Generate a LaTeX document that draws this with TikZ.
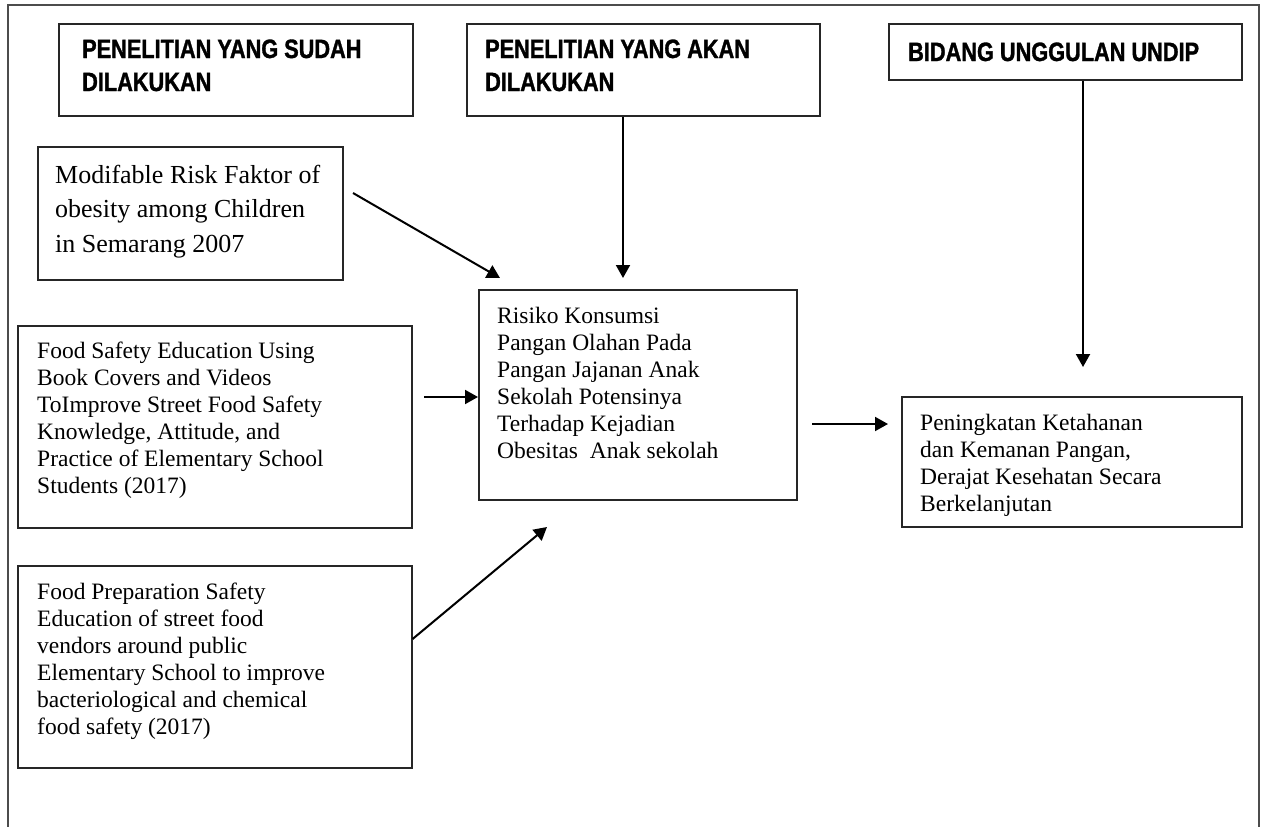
\documentclass[tikz,border=0pt]{standalone}
\usepackage{fontspec}
\setmainfont{Liberation Serif}
\newfontfamily\hdrfont[FakeStretch=0.82,FakeBold=1.2]{Liberation Sans}
\usetikzlibrary{arrows.meta}
\begin{document}
\begin{tikzpicture}[x=1pt,y=-1pt,
  framebox/.style={draw=black!85,line width=1.6pt,inner sep=0pt,anchor=north west},
  hdrtext/.style={anchor=base west,inner sep=0pt,font=\hdrfont\bfseries\fontsize{26.5}{33}\selectfont},
  bodytext/.style={anchor=base west,inner sep=0pt,font=\fontsize{23.5}{27}\selectfont},
  bigtext/.style={anchor=base west,inner sep=0pt,font=\fontsize{26}{34.5}\selectfont},
  arr/.style={line width=2pt,-{Triangle[length=13pt,width=14pt]}}]
\useasboundingbox (0,0) rectangle (1262,827);
\fill[white] (0,0) rectangle (1262,827);
% outer frame, open at the bottom
\draw[draw=black!70,line width=2pt] (8,827) -- (8,5) -- (1259,5) -- (1259,827);

% header boxes
\node[framebox,minimum width=354pt,minimum height=92pt] (hA) at (58,23) {};
\node[hdrtext] (hAt) at (82,58) {\begin{tabular}[t]{@{}l@{}}PENELITIAN YANG SUDAH\\DILAKUKAN\end{tabular}};
\node[framebox,minimum width=353pt,minimum height=92pt] (hB) at (466,23) {};
\node[hdrtext] (hBt) at (485,58) {\begin{tabular}[t]{@{}l@{}}PENELITIAN YANG AKAN\\DILAKUKAN\end{tabular}};
\node[framebox,minimum width=353pt,minimum height=56pt] (hC) at (888,23) {};
\node[hdrtext] (hCt) at (908,61) {BIDANG UNGGULAN UNDIP};

% left column boxes
\node[framebox,minimum width=305pt,minimum height=133pt] (mod) at (37,146) {};
\node[bigtext] (modt) at (55,183) {\begin{tabular}[t]{@{}l@{}}Modifable Risk Faktor of\\obesity among Children\\in Semarang 2007\end{tabular}};
\node[framebox,minimum width=394pt,minimum height=202pt] (fse) at (17,325) {};
\node[bodytext] (fset) at (37,358) {\begin{tabular}[t]{@{}l@{}}Food Safety Education Using\\Book Covers and Videos\\ToImprove Street Food Safety\\Knowledge, Attitude, and\\Practice of Elementary School\\Students (2017)\end{tabular}};
\node[framebox,minimum width=394pt,minimum height=202pt] (fps) at (17,565) {};
\node[bodytext] (fpst) at (37,599) {\begin{tabular}[t]{@{}l@{}}Food Preparation Safety\\Education of street food\\vendors around public\\Elementary School to improve\\bacteriological and chemical\\food safety (2017)\end{tabular}};

% centre box
\node[framebox,minimum width=318pt,minimum height=210pt] (ctr) at (478,289) {};
\node[bodytext] (ctrt) at (497,323) {\begin{tabular}[t]{@{}l@{}}Risiko Konsumsi\\Pangan Olahan Pada\\Pangan Jajanan Anak\\Sekolah Potensinya\\Terhadap Kejadian\\Obesitas~~Anak sekolah\end{tabular}};

% outcome box
\node[framebox,minimum width=340pt,minimum height=130pt] (res) at (901,396) {};
\node[bodytext] (rest) at (920,430) {\begin{tabular}[t]{@{}l@{}}Peningkatan Ketahanan\\dan Kemanan Pangan,\\Derajat Kesehatan Secara\\Berkelanjutan\end{tabular}};

% connector end points
\coordinate (tB) at (623,278);
\coordinate (tC) at (1083,367);
\coordinate (sM) at (353,193);
\coordinate (tM) at (500,278);
\coordinate (sF) at (424,397);
\coordinate (sP) at (411,639);
\coordinate (tP) at (547,527);
\coordinate (sR) at (812,424);
\coordinate (tR) at (888,424);

% connectors
\draw[arr] (tB |- hB.south) -- (tB);
\draw[arr] (tC |- hC.south) -- (tC);
\draw[arr] (sM) -- (tM);
\draw[arr] (sF) -- (sF -| ctr.west);
\draw[arr] (sP -| fps.east) -- (tP);
\draw[arr] (sR) -- (tR);
\end{tikzpicture}
\end{document}
